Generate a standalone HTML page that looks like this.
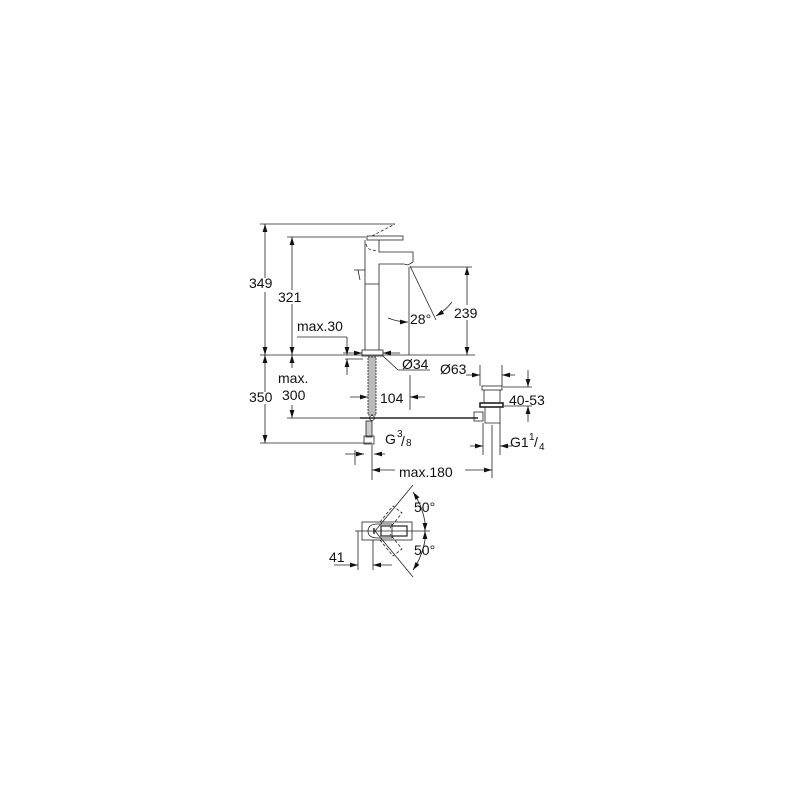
<!DOCTYPE html>
<html><head><style>
html,body{margin:0;padding:0;background:#fff;}
svg{display:block;}
text{font-family:"Liberation Sans",Arial,sans-serif;font-size:14px;fill:#111;}
</style></head><body>
<svg width="800" height="800" viewBox="0 0 800 800" xmlns="http://www.w3.org/2000/svg">
<defs>
<marker id="a" viewBox="0 0 10 6" refX="10" refY="3" markerWidth="8" markerHeight="5" orient="auto-start-reverse" markerUnits="userSpaceOnUse"><path d="M0,0L10,3L0,6z" fill="#111"/></marker>
</defs>
<g stroke="#222" stroke-width="0.8" fill="none">
<line x1="260" y1="224" x2="395" y2="224"/>
<line x1="287" y1="237" x2="366" y2="237"/>
<line x1="260" y1="355" x2="475" y2="355"/>
<line x1="260" y1="443" x2="372" y2="443"/>
<line x1="287" y1="418" x2="420" y2="418"/>
<line x1="427" y1="418" x2="475" y2="418"/>
<line x1="410" y1="267" x2="472" y2="267"/>
<line x1="265" y1="224" x2="265" y2="278" marker-start="url(#a)"/>
<line x1="265" y1="292" x2="265" y2="355" marker-end="url(#a)"/>
<line x1="265" y1="355" x2="265" y2="392" marker-start="url(#a)"/>
<line x1="265" y1="404" x2="265" y2="443" marker-end="url(#a)"/>
<line x1="292" y1="237" x2="292" y2="290" marker-start="url(#a)"/>
<line x1="292" y1="304" x2="292" y2="355" marker-end="url(#a)"/>
<line x1="292" y1="355" x2="292" y2="368" marker-start="url(#a)"/>
<line x1="292" y1="405" x2="292" y2="418" marker-end="url(#a)"/>
<line x1="467" y1="267" x2="467" y2="305" marker-start="url(#a)"/>
<line x1="467" y1="320" x2="467" y2="355" marker-end="url(#a)"/>
<line x1="409" y1="267" x2="409" y2="355"/>
<line x1="410" y1="266" x2="436" y2="320"/>
<path d="M388,318 Q398,322 408,322" marker-end="url(#a)"/>
<path d="M452,302 Q446,310 436,316" marker-end="url(#a)"/>
<line x1="297" y1="337" x2="347" y2="337"/>
<line x1="347" y1="337" x2="347" y2="355" marker-end="url(#a)"/>
<line x1="347" y1="375" x2="347" y2="359" marker-end="url(#a)"/>
<line x1="345" y1="359" x2="363" y2="359"/>
<!-- faucet -->
<rect x="367" y="236" width="36" height="4"/>
<path d="M365,350 L365,240 M379,240 L379,252 L413,252 L413,262 L408,265 L404,264 L379,264 L379,350"/>
<line x1="365" y1="284" x2="379" y2="284"/>
<path d="M372,236 L395,224" stroke-dasharray="3,2"/>
<path d="M366,244 Q368,252 378,250" stroke-dasharray="3,2"/>
<path d="M354,270 L365,270 M358,270 L360,280"/>
<rect x="362" y="350" width="21" height="6"/>
<line x1="343" y1="353" x2="362" y2="353" marker-end="url(#a)"/>
<line x1="400" y1="353" x2="383" y2="353" marker-end="url(#a)"/>
<line x1="383" y1="356" x2="398" y2="370"/>
<line x1="398" y1="370" x2="430" y2="370"/>
<rect x="368" y="357" width="8" height="58" stroke-dasharray="2,1" fill="#bbb"/>
<rect x="366" y="421" width="6" height="16" fill="#ccc"/>
<rect x="364" y="436" width="10" height="8"/>
<line x1="350" y1="397" x2="368" y2="397" marker-end="url(#a)"/>
<line x1="425" y1="397" x2="410" y2="397" marker-end="url(#a)"/>
<line x1="410" y1="375" x2="410" y2="410"/>
<line x1="360" y1="418" x2="478" y2="418" stroke-width="1.6"/>
<circle cx="372" cy="418" r="2.5"/>
<line x1="355" y1="450" x2="355" y2="465"/>
<line x1="372" y1="445" x2="372" y2="480"/>
<line x1="345" y1="454" x2="364" y2="454" marker-end="url(#a)"/>
<line x1="385" y1="454" x2="374" y2="454" marker-end="url(#a)"/>
<line x1="395" y1="470" x2="372" y2="470" marker-end="url(#a)"/>
<line x1="465" y1="470" x2="492" y2="470" marker-end="url(#a)"/>
<line x1="492" y1="425" x2="492" y2="478"/>
<rect x="482" y="386" width="20" height="4"/>
<path d="M484,390 L484,403 M500,390 L500,403"/>
<rect x="480" y="403" width="23" height="4" stroke-width="1.6"/>
<path d="M485,407 L485,423 L500,423 L500,407"/>
<rect x="474" y="412" width="9" height="9"/>
<line x1="483" y1="423" x2="483" y2="455"/>
<line x1="500" y1="423" x2="500" y2="455"/>
<line x1="480" y1="365" x2="480" y2="386"/>
<line x1="502" y1="365" x2="502" y2="386"/>
<line x1="466" y1="375" x2="480" y2="375" marker-end="url(#a)"/>
<line x1="515" y1="375" x2="502" y2="375" marker-end="url(#a)"/>
<line x1="503" y1="387" x2="532" y2="387"/>
<line x1="504" y1="406" x2="532" y2="406"/>
<line x1="528" y1="370" x2="528" y2="387" marker-end="url(#a)"/>
<line x1="528" y1="422" x2="528" y2="406" marker-end="url(#a)"/>
<line x1="470" y1="446" x2="483" y2="446" marker-end="url(#a)"/>
<line x1="512" y1="446" x2="500" y2="446" marker-end="url(#a)"/>
<!-- bottom view -->
<rect x="362" y="522" width="50" height="18"/>
<rect x="381" y="526" width="26" height="10" stroke-width="1.2"/>
<path d="M368,531 Q368,524 378,524 L392,524 L392,538 L378,538 Q368,538 368,531z"/>
<line x1="374" y1="528" x2="374" y2="534" stroke-width="1.5"/>
<line x1="355" y1="531" x2="430" y2="531"/>
<line x1="358" y1="531" x2="358" y2="570"/>
<line x1="373" y1="540" x2="373" y2="570"/>
<line x1="334" y1="565" x2="358" y2="565" marker-end="url(#a)"/>
<line x1="392" y1="565" x2="373" y2="565" marker-end="url(#a)"/>
<line x1="375" y1="531" x2="413" y2="485"/>
<line x1="375" y1="531" x2="413" y2="577"/>
<g stroke-dasharray="3,2">
<path d="M380,522 L393,506 L402,513 L390,528"/>
<path d="M380,540 L393,556 L402,549 L390,534"/>
</g>
<path d="M413,492 Q422,505 425,522" marker-start="url(#a)"/>
<path d="M413,570 Q422,557 425,540" marker-start="url(#a)"/>
<line x1="425" y1="522" x2="425" y2="531" marker-end="url(#a)"/>
<line x1="425" y1="540" x2="425" y2="531" marker-end="url(#a)"/>
</g>
<text x="249" y="288">349</text>
<text x="278" y="302">321</text>
<text x="454" y="318">239</text>
<text x="410" y="324">28°</text>
<text x="297" y="331">max.30</text>
<text x="402" y="369">Ø34</text>
<text x="440" y="374">Ø63</text>
<text x="278" y="383">max.</text>
<text x="249" y="402">350</text>
<text x="282" y="400">300</text>
<text x="380" y="403">104</text>
<text x="509" y="405">40-53</text>
<text x="385" y="444">G</text><text x="397" y="437" style="font-size:10px">3</text><text x="401" y="446">/</text><text x="406" y="446" style="font-size:10px">8</text>
<text x="510" y="447">G1</text><text x="529" y="440" style="font-size:10px">1</text><text x="534" y="447">/</text><text x="539" y="450" style="font-size:10px">4</text>
<text x="399" y="477">max.180</text>
<text x="414" y="512">50°</text>
<text x="414" y="555">50°</text>
<text x="329" y="562">41</text>
</svg>
</body></html>
